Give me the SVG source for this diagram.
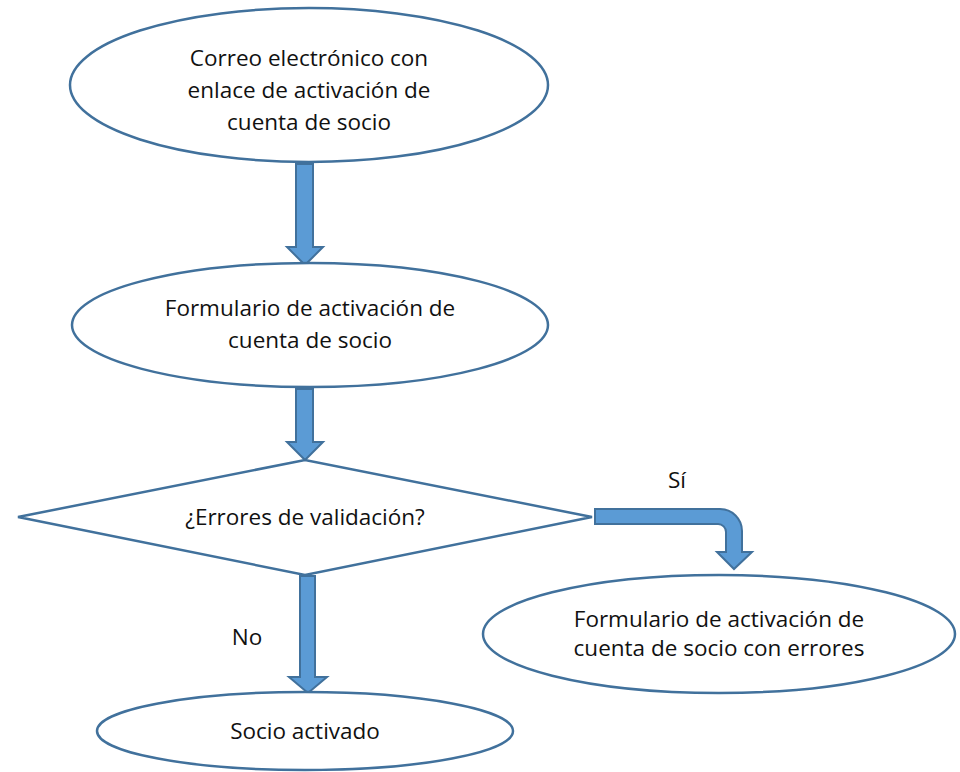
<svg xmlns="http://www.w3.org/2000/svg" width="960" height="772" viewBox="0 0 960 772">
<style>
.shape{fill:#ffffff;stroke:#41719C;stroke-width:2.5}
.arrow{fill:#5B9BD5;stroke:#41719C;stroke-width:2;stroke-linejoin:miter}
text{font-family:"Open Sans","Noto Sans","Liberation Sans",sans-serif;font-size:22.5px;fill:#111111;text-anchor:middle}
</style>
<rect width="960" height="772" fill="#ffffff"/>
<g id="connectors">
<path class="arrow" d="M296,164 L313,164 L313,247 L323,247 L305,265 L287,247 L296,247 Z"/>
<path class="arrow" d="M296,389 L313,389 L313,442 L323,442 L305,460 L287,442 L296,442 Z"/>
<path class="arrow" d="M300,576 L315,576 L315,677 L327,677 L308,693 L289,677 L300,677 Z"/>
<path class="arrow" d="M595,509 L720,509 A22,22 0 0 1 742,531 L742,552 L752,552 L734,569 L717,552 L726,552 L726,532 A8,8 0 0 0 718,524 L595,524 Z"/>
</g>
<g id="node-correo">
<ellipse class="shape" cx="309" cy="85" rx="239" ry="77"/>
<text x="309" y="66">Correo electrónico con</text>
<text x="309" y="98">enlace de activación de</text>
<text x="309" y="130">cuenta de socio</text>
</g>
<g id="node-formulario">
<ellipse class="shape" cx="310" cy="325" rx="238" ry="62"/>
<text x="310" y="316">Formulario de activación de</text>
<text x="310" y="348">cuenta de socio</text>
</g>
<g id="node-errores">
<polygon class="shape" points="18,517 305,460 592,517 305,575"/>
<text x="305" y="525">¿Errores de validación?</text>
</g>
<g id="node-formulario-errores">
<ellipse class="shape" cx="719" cy="634" rx="236" ry="59"/>
<text x="719" y="627">Formulario de activación de</text>
<text x="719" y="656">cuenta de socio con errores</text>
</g>
<g id="node-activado">
<ellipse class="shape" cx="305" cy="731" rx="208" ry="39"/>
<text x="305" y="739">Socio activado</text>
</g>
<g id="labels">
<text x="677" y="488">Sí</text>
<text x="247" y="645">No</text>
</g>
</svg>
